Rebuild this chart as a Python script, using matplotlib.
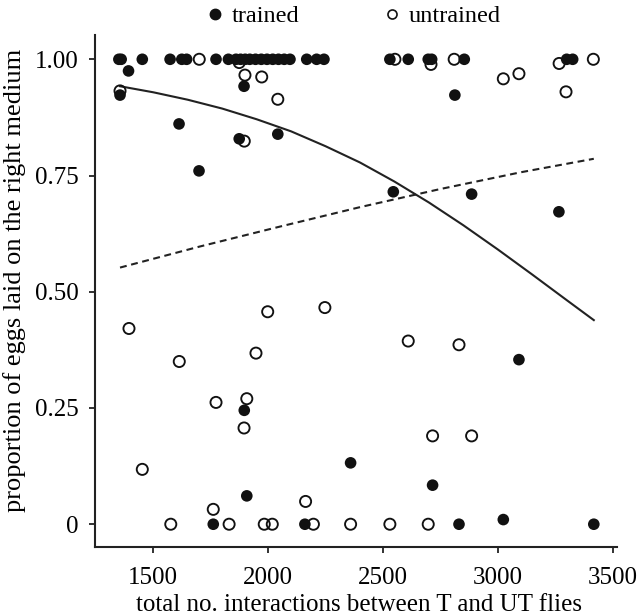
import matplotlib
matplotlib.use("Agg")
import matplotlib.pyplot as plt
from matplotlib.lines import Line2D

plt.rcParams['font.family'] = ['Liberation Serif', 'DejaVu Serif']

# ---- data ----
trained_x = [1350, 1360, 1452, 1573, 1624, 1645, 1773, 1827, 1860, 1880, 1900, 1920,
             1945, 1970, 1995, 2020, 2045, 2070, 2095, 2168, 2211, 2243, 2530, 2610,
             2697, 2712, 2854, 3300, 3326,
             1392, 1895, 1355, 1612, 1874, 2042, 1699, 2813, 2545, 2886, 3266, 3092,
             1896, 2359, 1907, 2716, 1761, 2160, 2831, 3024, 3418]
trained_y = [1.0] * 29 + [0.975, 0.942, 0.923, 0.861, 0.829, 0.839, 0.760, 0.923, 0.715,
                          0.710, 0.672, 0.354, 0.245, 0.132, 0.061, 0.084, 0.0, 0.0, 0.0,
                          0.010, 0.0]

untrained_x = [1700, 1874, 1899, 1972, 1355, 2042, 1896, 2552, 2709, 2810, 3024, 3092,
               3267, 3416, 3297, 2610, 2831, 1394, 1998, 2247, 1613, 1947, 1773, 1907,
               1895, 1452, 1761, 2163, 2716, 2886, 1576, 1830, 1983, 2018, 2197, 2359,
               2530, 2697]
untrained_y = [1.0, 0.993, 0.966, 0.962, 0.932, 0.914, 0.824, 1.0, 0.989, 1.0, 0.958, 0.969,
               0.991, 1.0, 0.930, 0.394, 0.386, 0.421, 0.457, 0.466, 0.350, 0.368, 0.262,
               0.270, 0.207, 0.118, 0.032, 0.049, 0.190, 0.190, 0.0, 0.0, 0.0, 0.0, 0.0,
               0.0, 0.0, 0.0]

# fitted curves
fit_trained_x = [1355, 1500, 1650, 1800, 1950, 2100, 2250, 2400, 2550, 2700, 2850,
                 3000, 3150, 3300, 3418]
fit_trained_y = [0.942, 0.929, 0.913, 0.894, 0.871, 0.845, 0.813, 0.778, 0.737, 0.692,
                 0.643, 0.591, 0.537, 0.482, 0.439]
fit_untrained_x = [1355, 1700, 2050, 2400, 2750, 3100, 3418]
fit_untrained_y = [0.552, 0.597, 0.640, 0.682, 0.721, 0.757, 0.786]

x_ticks = [1500, 2000, 2500, 3000, 3500]
y_ticks = [0, 0.25, 0.50, 0.75, 1.00]
y_tick_labels = ['0', '0.25', '0.50', '0.75', '1.00']

# ---- figure ----
fig = plt.figure(figsize=(6.37, 6.16), dpi=100)
ax = fig.add_axes([0.1484, 0.112, 0.8202, 0.831])

ink = '#111111'
ax.plot(fit_trained_x, fit_trained_y, color='#222222', lw=1.5, zorder=2)
ax.plot(fit_untrained_x, fit_untrained_y, color='#222222', lw=1.5,
        linestyle=(0, (3.3, 2.2)), zorder=2)

ax.scatter(trained_x, trained_y, s=70, color=ink, edgecolor='none', zorder=3)
ax.scatter(untrained_x, untrained_y, s=64, facecolor='none', edgecolor=ink,
           linewidth=1.35, zorder=4)

ax.set_xlim(1244, 3519)
ax.set_ylim(-0.049, 1.052)
ax.set_xticks(x_ticks)
ax.set_yticks(y_ticks)
ax.set_yticklabels(y_tick_labels)

for s in ['top', 'right']:
    ax.spines[s].set_visible(False)
for s in ['left', 'bottom']:
    ax.spines[s].set_linewidth(1.5)
    ax.spines[s].set_color('#222222')
ax.tick_params(direction='out', length=4.5, width=1.3, color='#222222',
               labelsize=18)
ax.tick_params(axis='y', pad=7)
ax.tick_params(axis='x', pad=10)

ax.set_xlabel('total no. interactions between T and UT flies', fontsize=18)
ax.set_ylabel('proportion of eggs laid on the right medium', fontsize=19)
ax.yaxis.set_label_coords(-0.132, 0.521)
ax.xaxis.set_label_coords(0.507, -0.091)

handles = [Line2D([], [], linestyle='none', marker='o', markersize=7.5,
                  markerfacecolor=ink, markeredgecolor=ink),
           Line2D([], [], linestyle='none', marker='o', markersize=6.5,
                  markerfacecolor='none', markeredgecolor=ink, markeredgewidth=1.2)]
fig.legend(handles, ['trained', 'untrained'], ncol=2, loc='center',
           bbox_to_anchor=(0.552, 0.974), frameon=False, fontsize=17.5,
           handletextpad=0.2, columnspacing=3.3, handlelength=1.0)

fig.savefig('out.png', dpi=100)
